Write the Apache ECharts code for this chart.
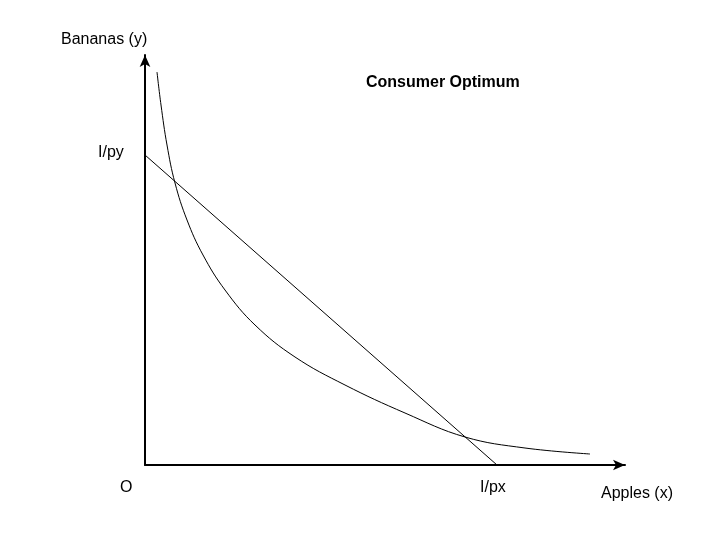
<!doctype html>
<meta charset="utf-8">
<style>
  html, body { margin: 0; padding: 0; width: 100%; height: 100%; background: #fff; }
  #chart { width: 720px; height: 540px; }
</style>
<script src="https://cdn.jsdelivr.net/npm/echarts@6/dist/echarts.min.js"></script>

<div id="chart"></div>

<script>
  // budget line endpoints (I/py on y axis, I/px on x axis)
  const budgetLine = [[0, 310], [352, 0]];
  // indifference curve
  const indifference = [[12, 393], [16, 360], [22, 320], [30, 282], [42, 245], [58, 210],
    [80, 175], [110, 140], [150, 108], [200, 80], [260, 52], [320, 28], [380, 17], [445, 11]];

  let chart = echarts.init(document.getElementById('chart'));
  const font = 'Liberation Sans, Arial, sans-serif';

  chart.setOption({
    animation: false,
    grid: { left: 145, right: 95, top: 55, bottom: 75 },
    xAxis: {
      type: 'value', min: 0, max: 480,
      axisLine: { lineStyle: { color: '#000', width: 2 }, symbol: ['none', 'arrow'], symbolSize: [8, 12] },
      axisTick: { show: false }, axisLabel: { show: false }, splitLine: { show: false }
    },
    yAxis: {
      type: 'value', min: 0, max: 410,
      axisLine: { lineStyle: { color: '#000', width: 2 }, symbol: ['none', 'arrow'], symbolSize: [8, 12] },
      axisTick: { show: false }, axisLabel: { show: false }, splitLine: { show: false }
    },
    series: [
      { type: 'line', data: budgetLine, symbol: 'none', lineStyle: { color: '#000', width: 1 } },
      { type: 'line', data: indifference, smooth: 0.4, symbol: 'none', lineStyle: { color: '#000', width: 1 } }
    ],
    graphic: [
      { type: 'text', left: 61, top: 32, style: { text: 'Bananas (y)', font: '16px ' + font, fill: '#000' } },
      { type: 'text', left: 366, top: 75, style: { text: 'Consumer Optimum', font: 'bold 16px ' + font, fill: '#000' } },
      { type: 'text', left: 98, top: 145, style: { text: 'I/py', font: '16px ' + font, fill: '#000' } },
      { type: 'text', left: 120, top: 480, style: { text: 'O', font: '16px ' + font, fill: '#000' } },
      { type: 'text', left: 480, top: 480, style: { text: 'I/px', font: '16px ' + font, fill: '#000' } },
      { type: 'text', left: 601, top: 486, style: { text: 'Apples (x)', font: '16px ' + font, fill: '#000' } }
    ]
  });
</script>
